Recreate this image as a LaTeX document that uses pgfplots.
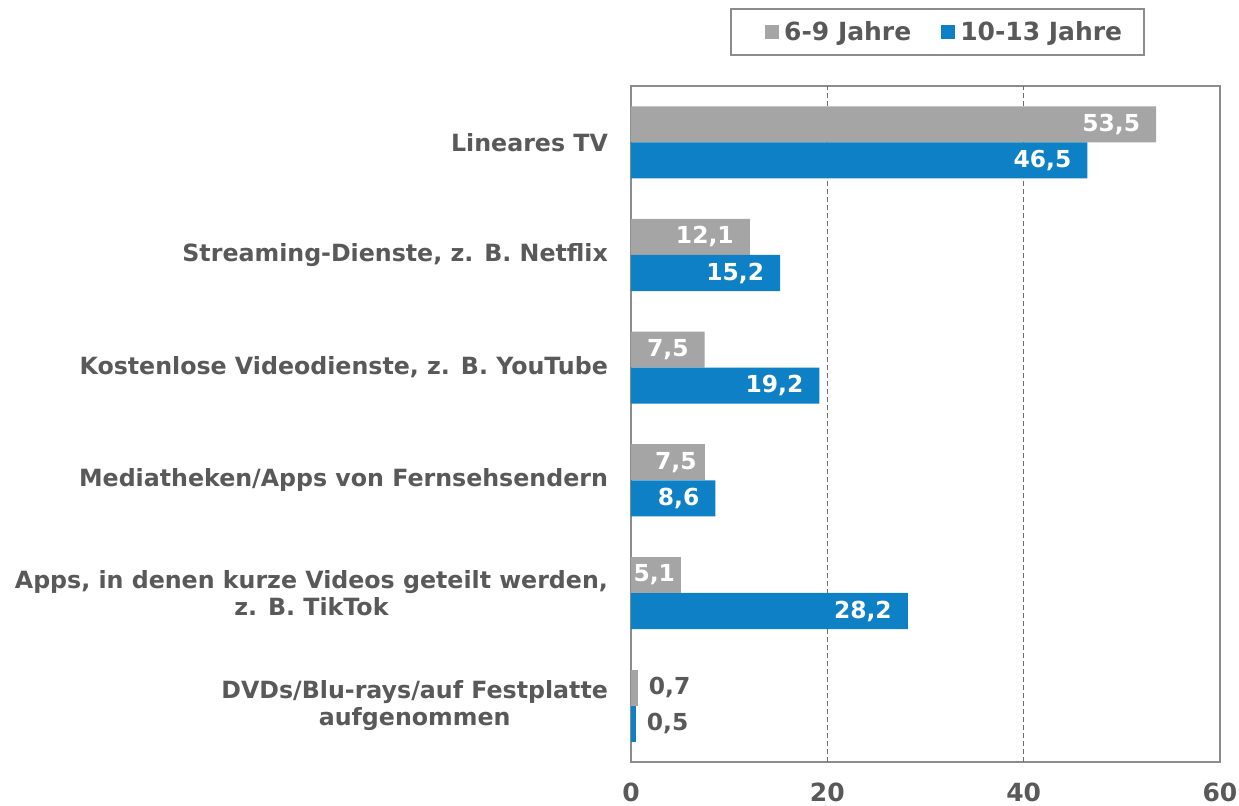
\documentclass[border=0pt]{standalone}
\usepackage{fontspec}
\setmainfont{DejaVu Sans}
\usepackage{pgfplots}
\pgfplotsset{compat=1.18}
\definecolor{cgrey}{HTML}{A5A5A5}
\definecolor{cblue}{HTML}{0E80C6}
\definecolor{ctext}{HTML}{595959}
\definecolor{cframe}{HTML}{8C8C8C}
\definecolor{cgrid}{HTML}{6E6E6E}
\pgfplotsset{
  inlab/.style={nodes near coords={\pgfmathprintnumber[use comma,fixed,fixed zerofill,precision=1]{\pgfplotspointmeta}},
    nodes near coords style={anchor=east, text=white, font=\bfseries\fontsize{11.7}{14}\selectfont, xshift=#1}},
  outlab/.style={nodes near coords={\pgfmathprintnumber[use comma,fixed,fixed zerofill,precision=1]{\pgfplotspointmeta}},
    nodes near coords style={anchor=west, text=ctext, font=\bfseries\fontsize{11.7}{14}\selectfont, xshift=2pt}},
}
\begin{document}
\begin{tikzpicture}
\path[use as bounding box] (-315.5pt,-22pt) rectangle (304pt,381pt);
\begin{axis}[
  at={(0,0)}, anchor=south west,
  scale only axis, width=294.5pt, height=338pt,
  xbar, bar width=0.32,
  xmin=0, xmax=60, ymin=-0.5, ymax=5.5,
  xtick={0,20,40,60},
  ytick={0,1,2,3,4,5},
  yticklabels={{DVDs/Blu-rays/auf Festplatte\\aufgenommen},
               {Apps, in denen kurze Videos geteilt werden,\\z. B. TikTok},
               {Mediatheken/Apps von Fernsehsendern},
               {Kostenlose Videodienste, z. B. YouTube},
               {Streaming-Dienste, z. B. Netflix},
               {Lineares TV}},
  major tick length=0pt,
  axis line style={cframe, line width=1pt},
  extra x ticks={20,40}, extra x tick labels={},
  extra x tick style={grid=major, major grid style={dash pattern=on 2.5pt off 1.5pt, cgrid, line width=0.7pt}},
  /pgf/number format/assume math mode=true,
  xticklabel style={font=\bfseries\fontsize{12.5}{14}\selectfont, text=ctext, yshift=-7pt},
  yticklabel style={font=\bfseries\fontsize{11.85}{13.5}\selectfont, text=ctext, align=center, xshift=-8pt},
  legend style={at={(0.873,1.115)}, anchor=north east, draw=cframe, line width=1pt,
    legend columns=2, font=\bfseries\fontsize{12.5}{14}\selectfont, text=ctext,
    inner xsep=10pt, inner ysep=4pt, nodes={inner xsep=1pt},
    /tikz/every even column/.append style={column sep=7pt}},
  legend image code/.code={\path (-7pt,0pt) (8.5pt,0pt); \fill[#1] (0pt,-3.5pt) rectangle (7pt,3.5pt);},
]
\addplot[fill=cgrey, draw=none, bar shift=0.16, inlab=-4.5pt]
  coordinates {(7.5,3) (12.1,4) (53.5,5)};
\addlegendentry{6-9 Jahre}
\addplot[fill=cblue, draw=none, bar shift=-0.16, inlab=-4.5pt]
  coordinates {(28.2,1) (8.6,2) (19.2,3) (15.2,4) (46.5,5)};
\addlegendentry{10-13 Jahre}
\addplot[fill=cgrey, draw=none, bar shift=0.16, forget plot, inlab=-0.5pt]
  coordinates {(7.5,2)};
\addplot[fill=cgrey, draw=none, bar shift=0.16, forget plot, inlab=0.5pt]
  coordinates {(5.1,1)};
\addplot[fill=cgrey, draw=none, bar shift=0.16, forget plot, outlab]
  coordinates {(0.7,0)};
\addplot[fill=cblue, draw=none, bar shift=-0.16, forget plot, outlab]
  coordinates {(0.5,0)};
\end{axis}
\end{tikzpicture}
\end{document}
